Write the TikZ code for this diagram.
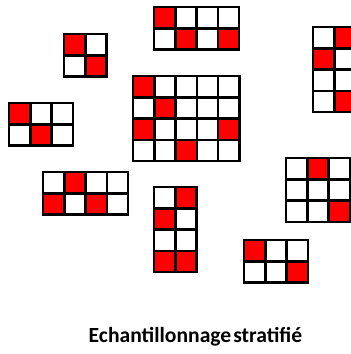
\documentclass[tikz,border=0pt]{standalone}
\usepackage{fontspec}
\setmainfont{Carlito}
\usepackage{tikz}
\definecolor{strared}{HTML}{FF0000}
\tikzset{
every picture/.style={line cap=rect,line join=miter},
cell/.style={draw=black, fill=white, line width=2.5pt},
hit cell/.style={cell, fill=strared},
caption/.style={font=\bfseries\fontsize{21.6}{25}\selectfont, text=black, inner sep=0pt}
}
\begin{document}
\begin{tikzpicture}[x=1pt,y=-1pt]
\useasboundingbox (0,0) rectangle (351,354);
\clip (0,0) rectangle (351,354);
% strata: origin x / origin y / columns / rows / sampled cells
\foreach \ox/\oy/\nc/\nr/\reds in {
  64/34/2/2/{0/0,1/1},
  9/103/3/2/{0/0,1/1},
  154/7/4/2/{0/0,1/1,3/1},
  133/76/5/4/{0/0,1/1,0/2,4/2,2/3},
  313/27/2/4/{1/0,0/1,1/3},
  43/172/4/2/{1/0,0/1,2/1},
  154/187/2/4/{1/0,0/1,0/3,1/3},
  286/158/3/3/{1/0,2/2},
  244/240/3/2/{0/0,2/1}} {
  \pgfmathtruncatemacro{\lc}{\nc-1}
  \pgfmathtruncatemacro{\lr}{\nr-1}
  \foreach \i in {0,...,\lc} {
    \foreach \j in {0,...,\lr} {
      \draw[cell] (\ox+21.3*\i,\oy+21.3*\j) rectangle ++(21.3,21.3);
    }
  }
  \foreach \i/\j in \reds {
    \draw[hit cell] (\ox+21.3*\i,\oy+21.3*\j) rectangle ++(21.3,21.3);
  }
}
\node[caption, anchor=base] (titre) at (195.5,342) {\spaceskip=2pt\relax Echantillonnage stratifié};
\end{tikzpicture}
\end{document}
